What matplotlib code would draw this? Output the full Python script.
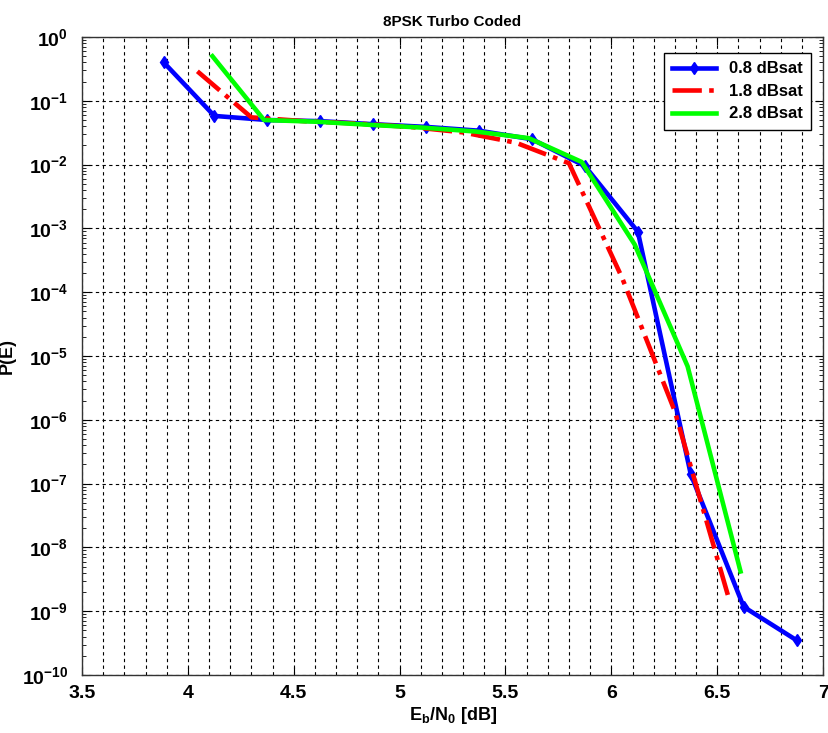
import matplotlib
matplotlib.use("Agg")
import matplotlib.pyplot as plt
from matplotlib.ticker import FixedLocator, MultipleLocator, LogLocator, NullFormatter

# data (Eb/N0 in dB, P(E))
eb_blue = [3.886, 4.125, 4.375, 4.625, 4.875, 5.125, 5.375, 5.625, 5.875, 6.125, 6.375, 6.625, 6.875]
pe_blue = [0.40, 0.058, 0.050, 0.048, 0.043, 0.039, 0.034, 0.025, 0.0095, 8.9e-4, 1.4e-7, 1.17e-9, 3.5e-10]

eb_red = [4.045, 4.30, 4.55, 4.80, 5.05, 5.30, 5.55, 5.80, 6.05, 6.30, 6.55]
pe_red = [0.29, 0.055, 0.048, 0.044, 0.039, 0.032, 0.022, 0.0105, 1.7e-4, 1.35e-6, 1.8e-9]

eb_green = [4.116, 4.36, 4.61, 4.86, 5.11, 5.36, 5.61, 5.86, 6.11, 6.36, 6.61]
pe_green = [0.50, 0.050, 0.047, 0.042, 0.038, 0.033, 0.026, 0.011, 5.6e-4, 6.9e-6, 4.2e-9]

labels = ['0.8 dBsat', '1.8 dBsat', '2.8 dBsat']
x_ticks = [3.5, 4, 4.5, 5, 5.5, 6, 6.5, 7]
y_exps = list(range(-10, 1))

plt.rcParams['font.family'] = ['Liberation Sans', 'DejaVu Sans']
plt.rcParams['font.weight'] = 'bold'
plt.rcParams['mathtext.fontset'] = 'custom'
plt.rcParams['mathtext.rm'] = 'Liberation Sans:bold'
plt.rcParams['mathtext.bf'] = 'Liberation Sans:bold'
plt.rcParams['mathtext.it'] = 'Liberation Sans:bold'

fig = plt.figure(figsize=(8.29, 7.33), dpi=100)
ax = fig.add_axes([0.0989, 0.0791, 0.894, 0.8704])

ax.plot(eb_blue, pe_blue, color='#0000FF', lw=3.3, marker='d', ms=6,
        label=labels[0], zorder=3)
ax.plot(eb_red, pe_red, color='#FF0000', lw=3.3, ls='-.', label=labels[1], zorder=3)
ax.plot(eb_green, pe_green, color='#00FF00', lw=3.3, label=labels[2], zorder=3)

ax.set_yscale('log')
ax.set_xlim(3.5, 7)
ax.set_ylim(1e-10, 1)

ax.xaxis.set_major_locator(FixedLocator(x_ticks))
ax.xaxis.set_minor_locator(MultipleLocator(0.1))
ax.set_xticklabels([f'{v:g}' for v in x_ticks], fontsize=14, fontweight='bold')

ax.yaxis.set_major_locator(FixedLocator([10.0 ** e for e in y_exps]))
ax.yaxis.set_minor_locator(LogLocator(base=10, subs=range(2, 10), numticks=20))
ax.yaxis.set_minor_formatter(NullFormatter())
ax.set_yticklabels([f'$\\mathbf{{10^{{{e}}}}}$' for e in y_exps], fontsize=14)

grid_style = dict(color='black', linestyle=(0, (3, 3)), linewidth=0.8)
ax.grid(True, which='major', axis='both', **grid_style)
ax.grid(True, which='minor', axis='x', **grid_style)
ax.set_axisbelow(True)

ax.tick_params(which='both', direction='in', top=True, right=True)
ax.tick_params(axis='x', which='minor', length=0)
ax.tick_params(which='major', length=6, width=0.8)
ax.tick_params(axis='y', which='major', pad=10)
ax.tick_params(axis='x', which='major', pad=7)
ax.tick_params(axis='y', which='minor', length=3, width=0.6)
for s in ax.spines.values():
    s.set_linewidth(1.0)
    s.set_color('#333333')

ax.set_title('8PSK Turbo Coded', fontsize=11, fontweight='bold', pad=8)
ax.set_xlabel('E$_\\mathbf{b}$/N$_\\mathbf{0}$ [dB]', fontsize=13, fontweight='bold',
              labelpad=2)
ax.set_ylabel('P(E)', fontsize=13, fontweight='bold', labelpad=4)

leg = ax.legend(loc='upper right', fontsize=12, fancybox=False, framealpha=1,
                edgecolor='black', handlelength=2.6, borderpad=0.5,
                labelspacing=0.45, bbox_to_anchor=(0.995, 0.988))
leg.get_frame().set_linewidth(1.0)
for t in leg.get_texts():
    t.set_fontweight('bold')

fig.savefig('out.png', dpi=100)
